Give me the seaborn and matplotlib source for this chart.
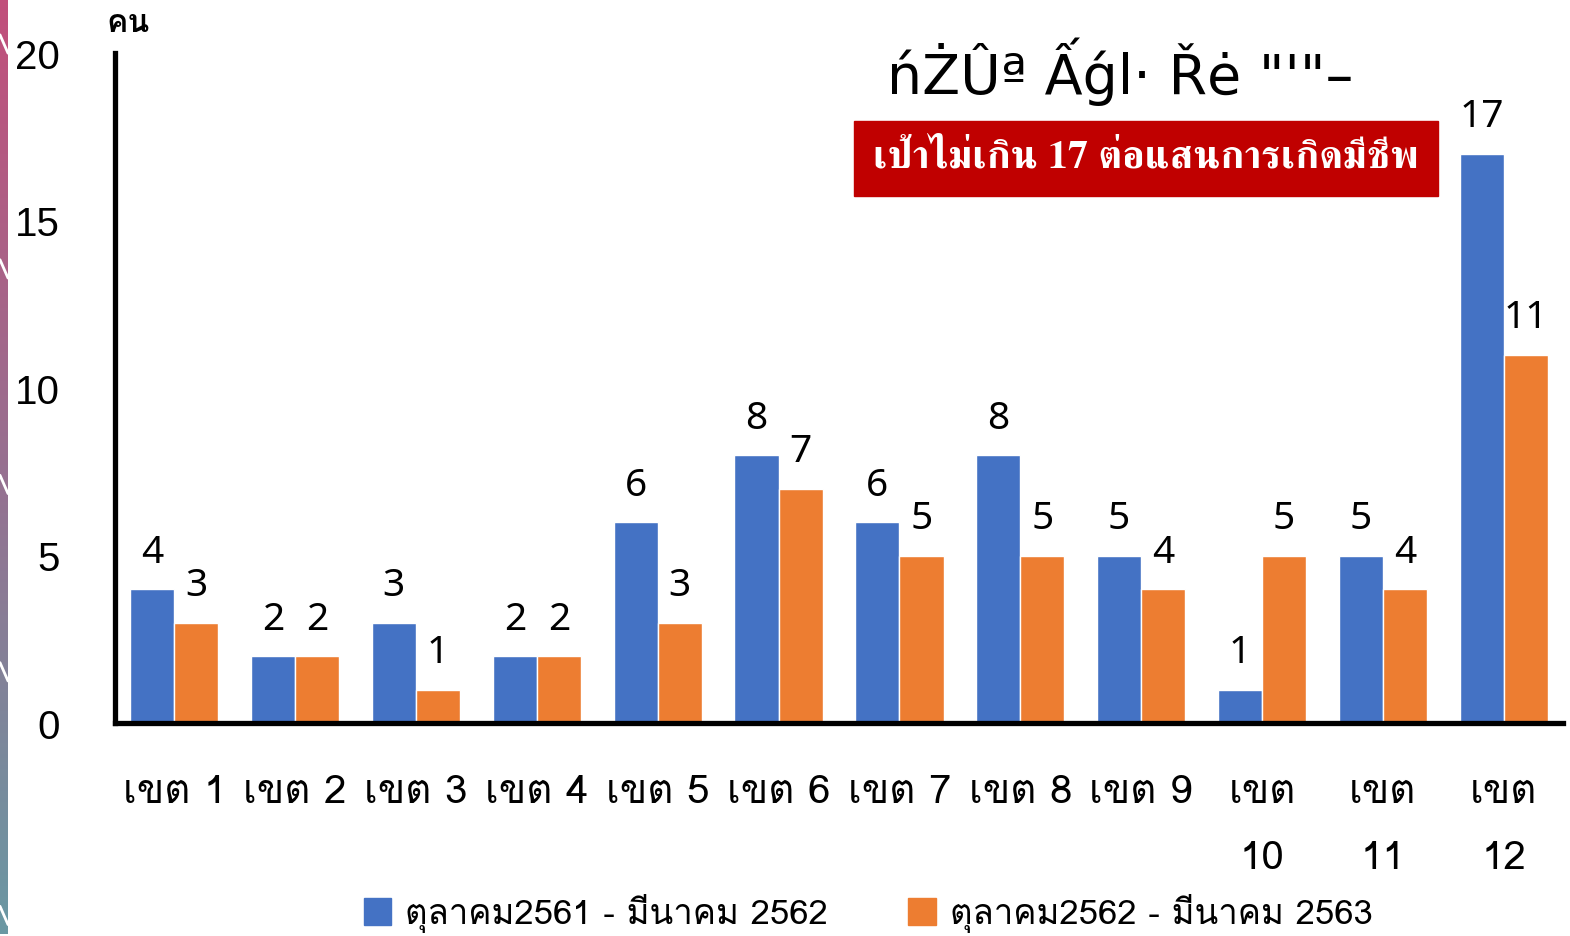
import matplotlib
matplotlib.use('Agg')
import matplotlib.pyplot as plt
import matplotlib.patches as mpatches
from matplotlib.colors import LinearSegmentedColormap
import seaborn as sns
import pandas as pd
import numpy as np

# data
regions = ['เขต 1', 'เขต 2', 'เขต 3', 'เขต 4', 'เขต 5', 'เขต 6',
           'เขต 7', 'เขต 8', 'เขต 9', 'เขต\n10', 'เขต\n11', 'เขต\n12']
period_1 = [4, 2, 3, 2, 6, 8, 6, 8, 5, 1, 5, 17]
period_2 = [3, 2, 1, 2, 3, 7, 5, 5, 4, 5, 4, 11]
series_names = ['ตุลาคม2561 - มีนาคม 2562', 'ตุลาคม2562 - มีนาคม 2563']
y_ticks = [0, 5, 10, 15, 20]
colors = ['#4472C4', '#ED7D31']

df = pd.DataFrame({
    'region': regions * 2,
    'value': period_1 + period_2,
    'period': [series_names[0]] * len(regions) + [series_names[1]] * len(regions),
})

sns.set_style("white")
thai = ['Loma', 'Noto Sans Thai Looped', 'Noto Sans', 'DejaVu Sans']
plt.rcParams['font.family'] = thai
plt.rcParams['text.color'] = 'black'
plt.rcParams['xtick.color'] = 'black'
plt.rcParams['ytick.color'] = 'black'

fig = plt.figure(figsize=(15.7, 9.37), dpi=100)

# decorative gradient strip on the left edge
strip = fig.add_axes([0, 0, 8 / 1570, 1])
cmap = LinearSegmentedColormap.from_list('edge', ['#C24F7B', '#977090', '#6A98A3'])
strip.imshow(np.linspace(0, 1, 256).reshape(-1, 1), aspect='auto', cmap=cmap)
for yy in [0.05, 0.29, 0.52, 0.72, 0.98]:
    strip.plot([-0.5, 0.5], [yy * 256 - 3, yy * 256 + 2], color='white', lw=2)
strip.set_xlim(-0.5, 0.5)
strip.set_ylim(256, 0)
strip.axis('off')

ax = fig.add_axes([115 / 1570, 1 - 724 / 937, 1448 / 1570, 670 / 937])
sns.barplot(data=df, x='region', y='value', hue='period', palette=colors,
            width=0.73, gap=0, ax=ax, legend=False, saturation=1)

for cont in ax.containers:
    ax.bar_label(cont, fmt='%d', padding=13, fontsize=28, family=['Noto Sans', 'DejaVu Sans'])

ax.set_xlim(-0.49, 11.49)
ax.set_ylim(0, 20)
ax.set_yticks(y_ticks)
ax.set_yticklabels([str(t) for t in y_ticks], family='Liberation Sans', fontsize=29)
ax.tick_params(axis='y', length=0, pad=40)
ax.tick_params(axis='x', length=0, pad=37, labelsize=29)
for lbl in ax.get_xticklabels():
    lbl.set_linespacing(2.05)
ax.set_xlabel('')
ax.set_ylabel('')
for s in ['top', 'right']:
    ax.spines[s].set_visible(False)
for s in ['left', 'bottom']:
    ax.spines[s].set_linewidth(3.8)
    ax.spines[s].set_color('black')

# unit label
fig.text(106 / 1570, 1 - 24 / 937, 'คน', fontsize=23, fontweight='bold', va='center', ha='left')

# title (kept as it appears)
fig.text(1120 / 1570, 1 - 72 / 937, 'ńŻÛª Ấǵl· Řė "\'"–', fontsize=40,
         family='DejaVu Sans', ha='center', va='center')

# target box
fig.text(1146 / 1570, 1 - 158 / 937, 'เป้าไม่เกิน 17 ต่อแสนการเกิดมีชีพ', fontsize=29,
         family=['FreeSerif', 'Noto Serif Thai'], fontweight='bold', color='white',
         ha='center', va='center')
fig.patches.append(mpatches.Rectangle((854 / 1570, 1 - 197 / 937), 584 / 1570, 75 / 937,
                                      transform=fig.transFigure, color='#C00000', zorder=0))

# legend
handles = [mpatches.Patch(color=c, label=n) for c, n in zip(colors, series_names)]
fig.legend(handles=handles, loc='center', bbox_to_anchor=(868 / 1570, 1 - 914 / 937),
           ncol=2, frameon=False, fontsize=25, handlelength=0.8, handleheight=0.8,
           handletextpad=0.4, columnspacing=2.3, borderpad=0)

fig.savefig('out.png', dpi=100)
